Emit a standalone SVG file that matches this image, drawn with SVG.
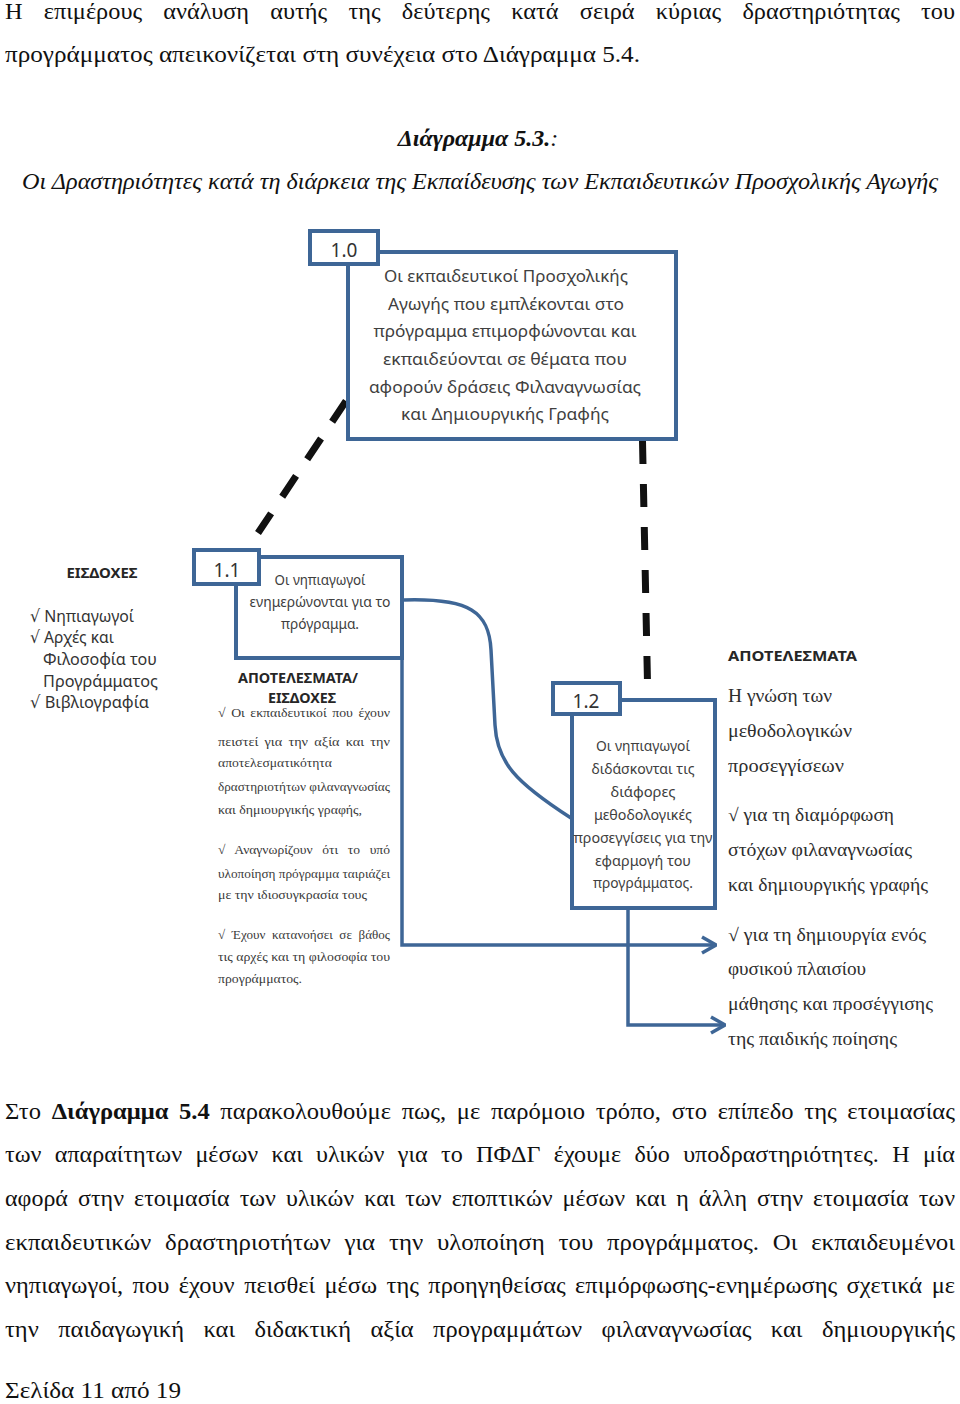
<svg xmlns="http://www.w3.org/2000/svg" width="960" height="1404" viewBox="0 0 960 1404">
<style>
.bg{fill:#fff}
.box{fill:#fff;stroke:#3e6696;stroke-width:4}
.conn{fill:none;stroke:#3e6696;stroke-width:3.5}
.dash{fill:none;stroke:#111;stroke-width:7;stroke-dasharray:25 20}
.sans{font-family:"Noto Sans","DejaVu Sans",sans-serif;fill:#404040}
.lbl{font-family:"Noto Sans","DejaVu Sans",sans-serif;fill:#333;font-size:19px;text-anchor:middle}
.n10{font-size:17px;text-anchor:middle}
.n11{font-size:14.5px;text-anchor:middle}
.side{font-size:17px;fill:#333}
.hd{font-weight:bold;font-size:15px;fill:#262626}
.small{font-family:"Liberation Serif","Times New Roman",serif;font-size:13px;fill:#3a3a3a}
.res{font-family:"Liberation Serif","Times New Roman",serif;font-size:18px;fill:#2e2e2e}
.para{font-family:"Liberation Serif","Times New Roman",serif;font-size:24px;fill:#111}
</style>
<defs>
<marker id="chev" viewBox="0 0 16 20" refX="15" refY="10" markerWidth="16" markerHeight="20" markerUnits="userSpaceOnUse" orient="auto">
<path d="M1,2 L15,10 L1,18" fill="none" stroke="#3e6696" stroke-width="3.5"/>
</marker>
</defs>
<rect class="bg" x="0" y="0" width="960" height="1404"/>

<g id="page-text">
<text class="para" x="5" y="19" textLength="950" lengthAdjust="spacingAndGlyphs" style="word-spacing:15px">Η επιμέρους ανάλυση αυτής της δεύτερης κατά σειρά κύριας δραστηριότητας του</text>
<text class="para" x="5" y="62" textLength="635" lengthAdjust="spacingAndGlyphs">προγράμματος απεικονίζεται στη συνέχεια στο Διάγραμμα 5.4.</text>
<text class="para" x="478" y="146" text-anchor="middle" font-style="italic"><tspan font-weight="bold">Διάγραμμα 5.3.</tspan>:</text>
<text class="para" x="22" y="189" font-style="italic" textLength="916" lengthAdjust="spacingAndGlyphs">Οι Δραστηριότητες κατά τη διάρκεια της Εκπαίδευσης των Εκπαιδευτικών Προσχολικής Αγωγής</text>

<text class="para" x="5" y="1119" textLength="950" lengthAdjust="spacingAndGlyphs" style="word-spacing:4.4px">Στο <tspan font-weight="bold">Διάγραμμα 5.4</tspan> παρακολουθούμε πως, με παρόμοιο τρόπο, στο επίπεδο της ετοιμασίας</text>
<text class="para" x="5" y="1162" textLength="950" lengthAdjust="spacingAndGlyphs" style="word-spacing:7.3px">των απαραίτητων μέσων και υλικών για το ΠΦΔΓ έχουμε δύο υποδραστηριότητες. Η μία</text>
<text class="para" x="5" y="1206" textLength="950" lengthAdjust="spacingAndGlyphs" style="word-spacing:4.1px">αφορά στην ετοιμασία των υλικών και των εποπτικών μέσων και η άλλη στην ετοιμασία των</text>
<text class="para" x="5" y="1250" textLength="950" lengthAdjust="spacingAndGlyphs" style="word-spacing:7.3px">εκπαιδευτικών δραστηριοτήτων για την υλοποίηση του προγράμματος. Οι εκπαιδευμένοι</text>
<text class="para" x="5" y="1293" textLength="950" lengthAdjust="spacingAndGlyphs" style="word-spacing:3.3px">νηπιαγωγοί, που έχουν πεισθεί μέσω της προηγηθείσας επιμόρφωσης-ενημέρωσης σχετικά με</text>
<text class="para" x="5" y="1337" textLength="950" lengthAdjust="spacingAndGlyphs" style="word-spacing:13px">την παιδαγωγική και διδακτική αξία προγραμμάτων φιλαναγνωσίας και δημιουργικής</text>
<text class="para" x="5" y="1398" textLength="176" lengthAdjust="spacingAndGlyphs">Σελίδα 11 από 19</text>
</g>

<g id="connectors">
<path class="dash" d="M346,401 L258,533"/>
<path class="dash" d="M642.5,441 L647.5,683" style="stroke-dasharray:23 20"/>
<path class="conn" d="M404,600 C470,598 489,612 491,650 L495,725 C497,762 515,782 571,818"/>
<path class="conn" d="M402,658 L402,945 L716,945" marker-end="url(#chev)"/>
<path class="conn" d="M628,908 L628,1025 L725,1025" marker-end="url(#chev)"/>
</g>

<g id="node-1-0">
<rect class="box" x="348" y="252" width="328" height="187"/>
<rect class="box" x="310" y="231" width="68" height="33"/>
<text class="lbl" x="344" y="257">1.0</text>
<g class="sans n10">
<text x="506" y="282" textLength="244" lengthAdjust="spacingAndGlyphs">Οι εκπαιδευτικοί Προσχολικής</text>
<text x="506" y="310" textLength="236" lengthAdjust="spacingAndGlyphs">Αγωγής που εμπλέκονται στο</text>
<text x="505" y="337" textLength="263" lengthAdjust="spacingAndGlyphs">πρόγραμμα επιμορφώνονται και</text>
<text x="505" y="365" textLength="244" lengthAdjust="spacingAndGlyphs">εκπαιδεύονται σε θέματα που</text>
<text x="505" y="393" textLength="272" lengthAdjust="spacingAndGlyphs">αφορούν δράσεις Φιλαναγνωσίας</text>
<text x="505" y="420" textLength="208" lengthAdjust="spacingAndGlyphs">και Δημιουργικής Γραφής</text>
</g>
</g>

<g id="node-1-1">
<rect class="box" x="236" y="557" width="166" height="101"/>
<rect class="box" x="194" y="550" width="65" height="34"/>
<text class="lbl" x="227" y="577">1.1</text>
<g class="sans n11">
<text x="320" y="585" textLength="91" lengthAdjust="spacingAndGlyphs">Οι νηπιαγωγοί</text>
<text x="320" y="607" textLength="141" lengthAdjust="spacingAndGlyphs">ενημερώνονται για το</text>
<text x="320" y="629" textLength="78" lengthAdjust="spacingAndGlyphs">πρόγραμμα.</text>
</g>
</g>

<g id="inputs-left">
<text class="sans hd" x="102" y="578" text-anchor="middle" textLength="71" lengthAdjust="spacingAndGlyphs">ΕΙΣΔΟΧΕΣ</text>
<text class="sans side" x="30" y="622" textLength="104" lengthAdjust="spacingAndGlyphs">√ Νηπιαγωγοί</text>
<text class="sans side" x="30" y="643" textLength="84" lengthAdjust="spacingAndGlyphs">√ Αρχές και</text>
<text class="sans side" x="43" y="665" textLength="114" lengthAdjust="spacingAndGlyphs">Φιλοσοφία του</text>
<text class="sans side" x="43" y="687" textLength="115" lengthAdjust="spacingAndGlyphs">Προγράμματος</text>
<text class="sans side" x="30" y="708" textLength="119" lengthAdjust="spacingAndGlyphs">√ Βιβλιογραφία</text>
</g>

<g id="results-inputs-mid">
<text class="sans hd" x="298" y="683" text-anchor="middle" textLength="120" lengthAdjust="spacingAndGlyphs">ΑΠΟΤΕΛΕΣΜΑΤΑ/</text>
<text class="sans hd" x="302" y="703" text-anchor="middle" textLength="68" lengthAdjust="spacingAndGlyphs">ΕΙΣΔΟΧΕΣ</text>
<text class="small" x="218" y="717" textLength="172" lengthAdjust="spacingAndGlyphs" style="word-spacing:2px">√ Οι εκπαιδευτικοί που έχουν</text>
<text class="small" x="218" y="746" textLength="172" lengthAdjust="spacingAndGlyphs" style="word-spacing:2.5px">πειστεί για την αξία και την</text>
<text class="small" x="218" y="767" textLength="114" lengthAdjust="spacingAndGlyphs">αποτελεσματικότητα</text>
<text class="small" x="218" y="791" textLength="172" lengthAdjust="spacingAndGlyphs">δραστηριοτήτων φιλαναγνωσίας</text>
<text class="small" x="218" y="814" textLength="144" lengthAdjust="spacingAndGlyphs">και δημιουργικής γραφής,</text>
<text class="small" x="218" y="854" textLength="172" lengthAdjust="spacingAndGlyphs" style="word-spacing:6px">√ Αναγνωρίζουν ότι το υπό</text>
<text class="small" x="218" y="878" textLength="172" lengthAdjust="spacingAndGlyphs">υλοποίηση πρόγραμμα ταιριάζει</text>
<text class="small" x="218" y="899" textLength="149" lengthAdjust="spacingAndGlyphs">με την ιδιοσυγκρασία τους</text>
<text class="small" x="218" y="939" textLength="172" lengthAdjust="spacingAndGlyphs" style="word-spacing:3.4px">√ Έχουν κατανοήσει σε βάθος</text>
<text class="small" x="218" y="961" textLength="172" lengthAdjust="spacingAndGlyphs">τις αρχές και τη φιλοσοφία του</text>
<text class="small" x="218" y="983" textLength="84" lengthAdjust="spacingAndGlyphs">προγράμματος.</text>
</g>

<g id="node-1-2">
<rect class="box" x="572" y="700" width="143" height="208"/>
<rect class="box" x="553" y="683" width="67" height="31"/>
<text class="lbl" x="586" y="708">1.2</text>
<g class="sans n11">
<text x="643" y="751" textLength="94" lengthAdjust="spacingAndGlyphs">Οι νηπιαγωγοί</text>
<text x="643" y="774" textLength="103" lengthAdjust="spacingAndGlyphs">διδάσκονται τις</text>
<text x="643" y="797" textLength="65" lengthAdjust="spacingAndGlyphs">διάφορες</text>
<text x="643" y="820" textLength="98" lengthAdjust="spacingAndGlyphs">μεθοδολογικές</text>
<text x="643" y="843" textLength="139" lengthAdjust="spacingAndGlyphs">προσεγγίσεις για την</text>
<text x="643" y="866" textLength="96" lengthAdjust="spacingAndGlyphs">εφαρμογή του</text>
<text x="643" y="888" textLength="100" lengthAdjust="spacingAndGlyphs">προγράμματος.</text>
</g>
</g>

<g id="results-right">
<text class="sans hd" x="728" y="661" textLength="129" lengthAdjust="spacingAndGlyphs">ΑΠΟΤΕΛΕΣΜΑΤΑ</text>
<text class="res" x="728" y="702" textLength="104" lengthAdjust="spacingAndGlyphs">Η γνώση των</text>
<text class="res" x="728" y="737" textLength="124" lengthAdjust="spacingAndGlyphs">μεθοδολογικών</text>
<text class="res" x="728" y="772" textLength="116" lengthAdjust="spacingAndGlyphs">προσεγγίσεων</text>
<text class="res" x="728" y="821" textLength="166" lengthAdjust="spacingAndGlyphs">√ για τη διαμόρφωση</text>
<text class="res" x="728" y="856" textLength="184" lengthAdjust="spacingAndGlyphs">στόχων φιλαναγνωσίας</text>
<text class="res" x="728" y="891" textLength="200" lengthAdjust="spacingAndGlyphs">και δημιουργικής γραφής</text>
<text class="res" x="728" y="941" textLength="198" lengthAdjust="spacingAndGlyphs">√ για τη δημιουργία ενός</text>
<text class="res" x="728" y="975" textLength="138" lengthAdjust="spacingAndGlyphs">φυσικού πλαισίου</text>
<text class="res" x="728" y="1010" textLength="205" lengthAdjust="spacingAndGlyphs">μάθησης και προσέγγισης</text>
<text class="res" x="728" y="1045" textLength="169" lengthAdjust="spacingAndGlyphs">της παιδικής ποίησης</text>
</g>
</svg>
